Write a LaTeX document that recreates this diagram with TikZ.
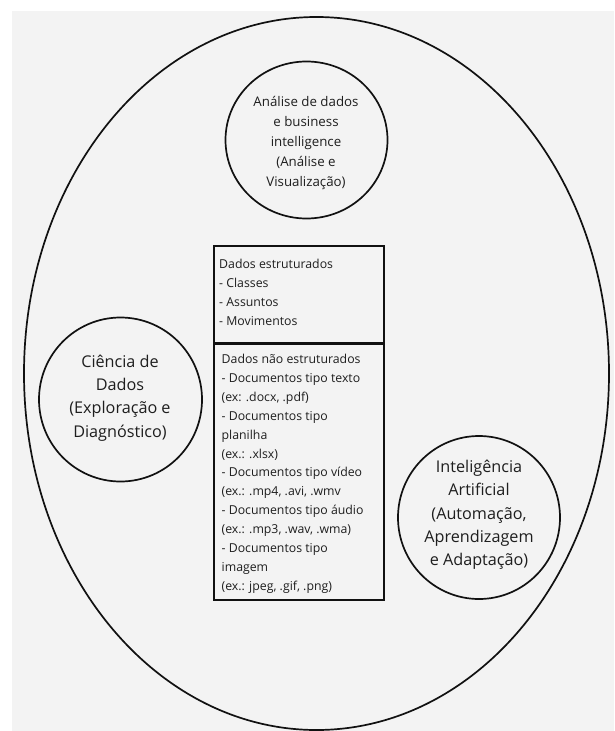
\documentclass[tikz,border=0pt]{standalone}
\usepackage{fontspec}
\setmainfont{Open Sans}
\usetikzlibrary{shapes.geometric}
\definecolor{bg}{HTML}{F3F3F3}
\definecolor{ink}{HTML}{111111}
\definecolor{txt}{HTML}{1E1E1E}
\tikzset{
  ring/.style={ellipse, draw=ink, line width=1.7pt, fill=bg, inner sep=0pt},
  boxpart/.style={rectangle, draw=ink, line width=1.7pt, fill=bg, inner sep=0pt, anchor=north west},
  ctext/.style={align=center, text=txt, inner sep=0pt},
  ltext/.style={align=left, text=txt, inner sep=0pt, anchor=north west,
    font=\fontsize{12.3}{18.9}\selectfont},
}
\begin{document}
\begin{tikzpicture}[x=1pt,y=-1pt]
\useasboundingbox (0,0) rectangle (614,731);
\fill[white] (0,0) rectangle (614,731);
\fill[bg] (12,11) rectangle (614,731);

\node[ring, minimum width=585pt, minimum height=713pt] (outer) at (316.5,373.5) {};

\node[ring, minimum width=162pt, minimum height=157pt] (bi) at (306.5,140) {};
\node[ctext, font=\fontsize{13.3}{20}\selectfont] (bitext) at (306,143)
  {Análise de dados\\e business\\intelligence\\(Análise e\\Visualização)};

\node[ring, minimum width=163pt, minimum height=164pt] (cd) at (120.5,399.5) {};
\node[ctext, font=\fontsize{16.2}{23.3}\selectfont] (cdtext) at (120,398)
  {Ciência de\\Dados\\(Exploração e\\Diagnóstico)};

\node[ring, minimum width=162pt, minimum height=163pt] (ia) at (479,517.5) {};
\node[ctext, font=\fontsize{16.2}{23.3}\selectfont] (iatext) at (479,515)
  {Inteligência\\Artificial\\(Automação,\\Aprendizagem\\e Adaptação)};

\node[boxpart, minimum width=170pt, minimum height=97pt] (est) at (213,245) {};
\node[boxpart, minimum width=170pt, minimum height=257pt] (nest) at (213,342) {};
\draw[ink, line width=3.2pt] (est.south west) -- (est.south east);

\node[ltext] (esttext) at (219,259.3)
  {Dados estruturados\\- Classes\\- Assuntos\\- Movimentos};
\node[ltext] (nesttext) at (221.5,354)
  {Dados não estruturados\\- Documentos tipo texto\\(ex: .docx, .pdf)\\- Documentos tipo\\planilha\\(ex.: .xlsx)\\- Documentos tipo vídeo\\(ex.: .mp4, .avi, .wmv\\- Documentos tipo áudio\\(ex.: .mp3, .wav, .wma)\\- Documentos tipo\\imagem\\(ex.: jpeg, .gif, .png)};
\end{tikzpicture}
\end{document}
